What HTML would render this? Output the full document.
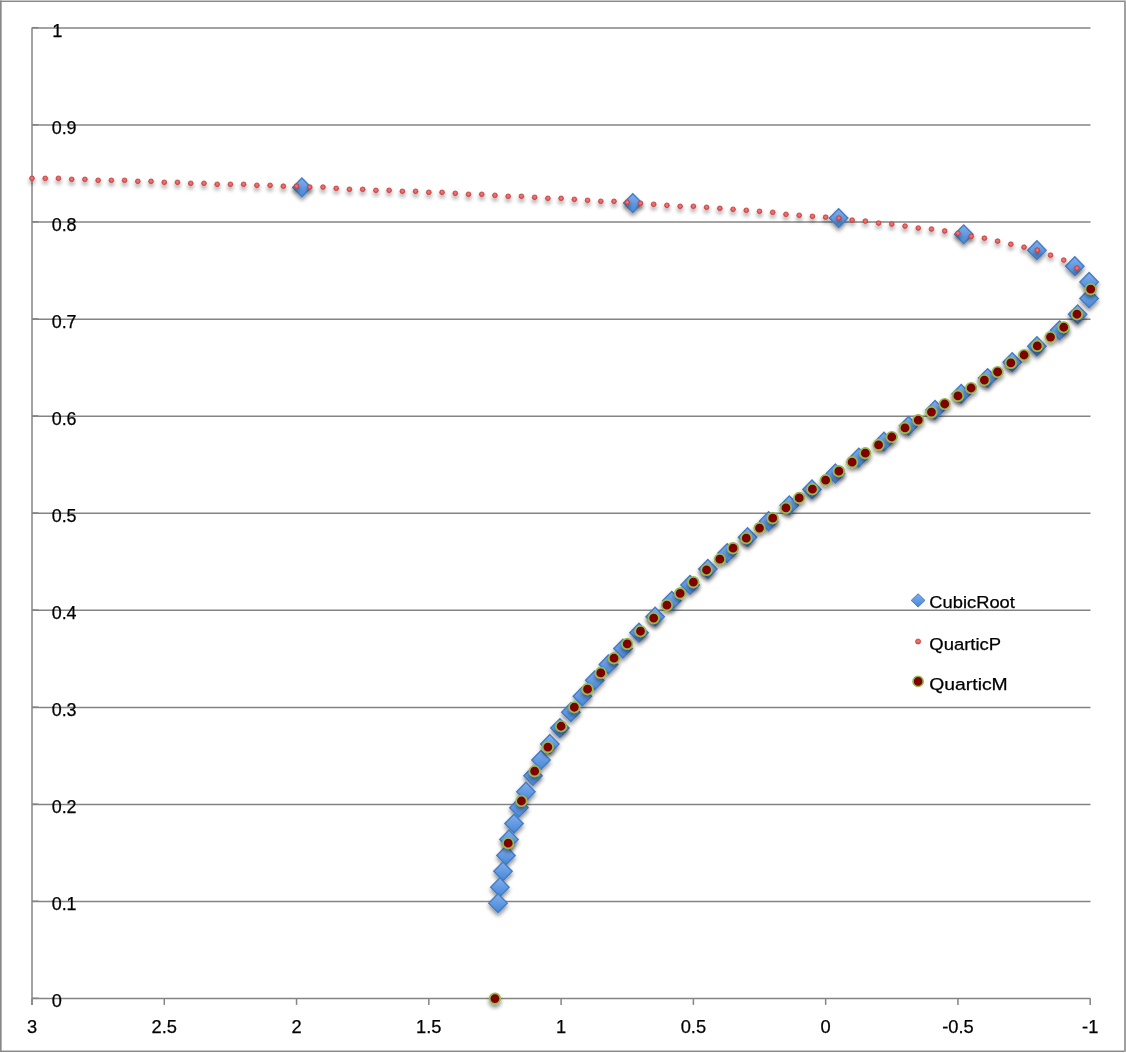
<!DOCTYPE html>
<html lang="en">
<head>
<meta charset="utf-8">
<title>Chart</title>
<style>
html,body{margin:0;padding:0;background:#fff;}
body{width:1126px;height:1053px;overflow:hidden;}
svg{display:block;}
text{font-family:"Liberation Sans",sans-serif;fill:#000;stroke:#000;stroke-width:0.25px;}
</style>
</head>
<body>
<svg width="1126" height="1053" viewBox="0 0 1126 1053">
<defs>
<linearGradient id="gb" x1="0" y1="0" x2="0" y2="1"><stop offset="0" stop-color="#82aeee"/><stop offset="1" stop-color="#4687d6"/></linearGradient>
<radialGradient id="gr" cx="0.5" cy="0.45" r="0.55"><stop offset="0" stop-color="#f67c7c"/><stop offset="0.55" stop-color="#e66262"/><stop offset="1" stop-color="#c43e3e"/></radialGradient>
<filter id="sh" filterUnits="userSpaceOnUse" x="-22" y="-22" width="44" height="50"><feGaussianBlur in="SourceAlpha" stdDeviation="2.1"/><feOffset dx="0" dy="3" result="o"/><feComponentTransfer><feFuncA type="linear" slope="0.45"/></feComponentTransfer><feMerge><feMergeNode/><feMergeNode in="SourceGraphic"/></feMerge></filter>
<path id="d" d="M0 -9.4L9.2 0L0 9.4L-9.2 0Z" fill="url(#gb)" stroke="#457cc2" stroke-width="1.4" stroke-linejoin="miter" filter="url(#sh)"/>
<circle id="p" r="2.4" fill="url(#gr)" stroke="#c23c3c" stroke-width="0.7" filter="url(#sh)"/>
<g id="m" filter="url(#sh)"><circle r="5.25" fill="#800000" stroke="#93bb50" stroke-width="1.7"/></g>
</defs>
<rect x="0" y="0" width="1126" height="1053" fill="#fff"/>
<g fill="#888">
<rect x="0" y="0.55" width="1125" height="1.45"/>
<rect x="0" y="1050.55" width="1125" height="1.45"/>
<rect x="0" y="0.55" width="1.65" height="1051.45"/>
<rect x="1124" y="0.55" width="2" height="1051.3" fill="#a0a0a0"/>
</g>

<g stroke="#848484" stroke-width="1.5" fill="none">
<line x1="32" y1="998.6" x2="1090.5" y2="998.6"/>
<line x1="32" y1="901.54" x2="1090.5" y2="901.54"/>
<line x1="32" y1="804.48" x2="1090.5" y2="804.48"/>
<line x1="32" y1="707.42" x2="1090.5" y2="707.42"/>
<line x1="32" y1="610.36" x2="1090.5" y2="610.36"/>
<line x1="32" y1="513.3" x2="1090.5" y2="513.3"/>
<line x1="32" y1="416.24" x2="1090.5" y2="416.24"/>
<line x1="32" y1="319.18" x2="1090.5" y2="319.18"/>
<line x1="32" y1="222.12" x2="1090.5" y2="222.12"/>
<line x1="32" y1="125.06" x2="1090.5" y2="125.06"/>
<line x1="32" y1="28" x2="1090.5" y2="28"/>
<line x1="32" y1="998.3" x2="38.5" y2="998.3"/>
<line x1="32" y1="901.24" x2="38.5" y2="901.24"/>
<line x1="32" y1="804.18" x2="38.5" y2="804.18"/>
<line x1="32" y1="707.12" x2="38.5" y2="707.12"/>
<line x1="32" y1="610.06" x2="38.5" y2="610.06"/>
<line x1="32" y1="513" x2="38.5" y2="513"/>
<line x1="32" y1="415.94" x2="38.5" y2="415.94"/>
<line x1="32" y1="318.88" x2="38.5" y2="318.88"/>
<line x1="32" y1="221.82" x2="38.5" y2="221.82"/>
<line x1="32" y1="124.76" x2="38.5" y2="124.76"/>
<line x1="32" y1="27.7" x2="38.5" y2="27.7"/>
<line x1="32" y1="27.4" x2="32" y2="1004.9"/>
<line x1="32" y1="998.6" x2="32" y2="1004.9"/>
<line x1="164.28" y1="998.6" x2="164.28" y2="1004.9"/>
<line x1="296.55" y1="998.6" x2="296.55" y2="1004.9"/>
<line x1="428.83" y1="998.6" x2="428.83" y2="1004.9"/>
<line x1="561.1" y1="998.6" x2="561.1" y2="1004.9"/>
<line x1="693.38" y1="998.6" x2="693.38" y2="1004.9"/>
<line x1="825.65" y1="998.6" x2="825.65" y2="1004.9"/>
<line x1="957.93" y1="998.6" x2="957.93" y2="1004.9"/>
<line x1="1090.2" y1="998.6" x2="1090.2" y2="1004.9"/>
</g>
<g font-size="18.3">
<text x="51.7" y="1007.3" textLength="10.1" lengthAdjust="spacingAndGlyphs">0</text>
<text x="51.7" y="910.24" textLength="24.9" lengthAdjust="spacingAndGlyphs">0.1</text>
<text x="51.7" y="813.18" textLength="24.9" lengthAdjust="spacingAndGlyphs">0.2</text>
<text x="51.7" y="716.12" textLength="24.9" lengthAdjust="spacingAndGlyphs">0.3</text>
<text x="51.7" y="619.06" textLength="24.9" lengthAdjust="spacingAndGlyphs">0.4</text>
<text x="51.7" y="522" textLength="24.9" lengthAdjust="spacingAndGlyphs">0.5</text>
<text x="51.7" y="424.94" textLength="24.9" lengthAdjust="spacingAndGlyphs">0.6</text>
<text x="51.7" y="327.88" textLength="24.9" lengthAdjust="spacingAndGlyphs">0.7</text>
<text x="51.7" y="230.82" textLength="24.9" lengthAdjust="spacingAndGlyphs">0.8</text>
<text x="51.7" y="133.76" textLength="24.9" lengthAdjust="spacingAndGlyphs">0.9</text>
<text x="52.3" y="36.7">1</text>
<text x="32" y="1032.6" text-anchor="middle">3</text>
<text x="164.28" y="1032.6" text-anchor="middle">2.5</text>
<text x="296.55" y="1032.6" text-anchor="middle">2</text>
<text x="428.83" y="1032.6" text-anchor="middle">1.5</text>
<text x="561.1" y="1032.6" text-anchor="middle">1</text>
<text x="693.38" y="1032.6" text-anchor="middle">0.5</text>
<text x="825.65" y="1032.6" text-anchor="middle">0</text>
<text x="957.93" y="1032.6" text-anchor="middle">-0.5</text>
<text x="1090.2" y="1032.6" text-anchor="middle">-1</text>
</g>
<g>
<use href="#d" x="301.9" y="187.4"/>
<use href="#d" x="632.8" y="203.1"/>
<use href="#d" x="838.65" y="218.1"/>
<use href="#d" x="963.75" y="234.3"/>
<use href="#d" x="1036.9" y="250.2"/>
<use href="#d" x="1074.8" y="266.2"/>
<use href="#d" x="1089.1" y="282"/>
<use href="#d" x="1089.1" y="298.4"/>
<use href="#d" x="1077.65" y="314.3"/>
<use href="#d" x="1059.59" y="330.32"/>
<use href="#d" x="1036.91" y="346.23"/>
<use href="#d" x="1012.19" y="362.14"/>
<use href="#d" x="987.64" y="378.05"/>
<use href="#d" x="961.23" y="393.96"/>
<use href="#d" x="935.07" y="409.88"/>
<use href="#d" x="908.55" y="425.79"/>
<use href="#d" x="884" y="441.7"/>
<use href="#d" x="858.83" y="457.61"/>
<use href="#d" x="835.44" y="473.52"/>
<use href="#d" x="811.97" y="489.43"/>
<use href="#d" x="789.33" y="505.34"/>
<use href="#d" x="768.59" y="521.26"/>
<use href="#d" x="747.57" y="537.17"/>
<use href="#d" x="727.16" y="553.08"/>
<use href="#d" x="707.82" y="568.99"/>
<use href="#d" x="690.07" y="584.9"/>
<use href="#d" x="671.8" y="600.81"/>
<use href="#d" x="655.13" y="616.72"/>
<use href="#d" x="639" y="632.64"/>
<use href="#d" x="622.97" y="648.55"/>
<use href="#d" x="608.41" y="664.46"/>
<use href="#d" x="594.74" y="680.37"/>
<use href="#d" x="582.35" y="696.28"/>
<use href="#d" x="570.87" y="712.19"/>
<use href="#d" x="559.92" y="728.1"/>
<use href="#d" x="549.88" y="744.02"/>
<use href="#d" x="540.99" y="759.93"/>
<use href="#d" x="532.98" y="775.84"/>
<use href="#d" x="525.91" y="791.75"/>
<use href="#d" x="518.9" y="807.66"/>
<use href="#d" x="514.01" y="823.57"/>
<use href="#d" x="508.98" y="839.49"/>
<use href="#d" x="505.99" y="855.4"/>
<use href="#d" x="502.98" y="871.31"/>
<use href="#d" x="499.91" y="887.22"/>
<use href="#d" x="498" y="903.13"/>
</g><g>
<use href="#p" x="32" y="178.35"/>
<use href="#p" x="45.23" y="178.35"/>
<use href="#p" x="58.46" y="178.35"/>
<use href="#p" x="71.68" y="179.35"/>
<use href="#p" x="84.91" y="179.35"/>
<use href="#p" x="98.14" y="180.3"/>
<use href="#p" x="111.36" y="180.3"/>
<use href="#p" x="124.59" y="180.3"/>
<use href="#p" x="137.82" y="181.3"/>
<use href="#p" x="151.05" y="181.3"/>
<use href="#p" x="164.28" y="182.3"/>
<use href="#p" x="177.5" y="182.3"/>
<use href="#p" x="190.73" y="183.3"/>
<use href="#p" x="203.96" y="183.3"/>
<use href="#p" x="217.19" y="184.3"/>
<use href="#p" x="230.41" y="184.3"/>
<use href="#p" x="243.64" y="184.3"/>
<use href="#p" x="256.87" y="185.3"/>
<use href="#p" x="270.1" y="185.3"/>
<use href="#p" x="283.32" y="186.2"/>
<use href="#p" x="296.55" y="186.2"/>
<use href="#p" x="309.78" y="187.1"/>
<use href="#p" x="323.01" y="187.1"/>
<use href="#p" x="336.23" y="188.35"/>
<use href="#p" x="349.46" y="189.35"/>
<use href="#p" x="362.69" y="189.35"/>
<use href="#p" x="375.92" y="190.3"/>
<use href="#p" x="389.14" y="190.3"/>
<use href="#p" x="402.37" y="191.3"/>
<use href="#p" x="415.6" y="191.3"/>
<use href="#p" x="428.83" y="192.3"/>
<use href="#p" x="442.05" y="192.3"/>
<use href="#p" x="455.28" y="193.3"/>
<use href="#p" x="468.51" y="194.3"/>
<use href="#p" x="481.74" y="194.3"/>
<use href="#p" x="494.96" y="195.3"/>
<use href="#p" x="508.19" y="196.3"/>
<use href="#p" x="521.42" y="196.3"/>
<use href="#p" x="534.64" y="197.3"/>
<use href="#p" x="547.87" y="198.3"/>
<use href="#p" x="561.1" y="198.35"/>
<use href="#p" x="574.33" y="199.35"/>
<use href="#p" x="587.56" y="200.3"/>
<use href="#p" x="600.78" y="201.3"/>
<use href="#p" x="614.01" y="201.3"/>
<use href="#p" x="627.24" y="202.3"/>
<use href="#p" x="640.47" y="203.3"/>
<use href="#p" x="653.69" y="204.3"/>
<use href="#p" x="666.92" y="205.3"/>
<use href="#p" x="680.15" y="206.3"/>
<use href="#p" x="693.38" y="206.3"/>
<use href="#p" x="706.6" y="207.3"/>
<use href="#p" x="719.83" y="208.3"/>
<use href="#p" x="733.06" y="209.3"/>
<use href="#p" x="746.29" y="210.3"/>
<use href="#p" x="759.51" y="211.3"/>
<use href="#p" x="772.74" y="212.3"/>
<use href="#p" x="785.97" y="214.3"/>
<use href="#p" x="799.2" y="215.3"/>
<use href="#p" x="812.42" y="216.3"/>
<use href="#p" x="825.65" y="217.2"/>
<use href="#p" x="838.88" y="218.1"/>
<use href="#p" x="852.11" y="220.1"/>
<use href="#p" x="865.33" y="221.1"/>
<use href="#p" x="878.56" y="223.1"/>
<use href="#p" x="891.79" y="224.1"/>
<use href="#p" x="905.02" y="226.1"/>
<use href="#p" x="918.24" y="228.05"/>
<use href="#p" x="931.47" y="229.05"/>
<use href="#p" x="944.7" y="231"/>
<use href="#p" x="957.93" y="233.3"/>
<use href="#p" x="971.15" y="236.3"/>
<use href="#p" x="984.38" y="238.2"/>
<use href="#p" x="997.61" y="241.2"/>
<use href="#p" x="1010.84" y="244.2"/>
<use href="#p" x="1024.06" y="247.2"/>
<use href="#p" x="1037.29" y="250.2"/>
<use href="#p" x="1050.52" y="255.2"/>
<use href="#p" x="1063.75" y="260.1"/>
<use href="#p" x="1076.97" y="268.1"/>
<use href="#p" x="1090.2" y="289.19"/>
</g><g>
<use href="#m" x="494.96" y="998.6"/>
<use href="#m" x="508.19" y="843.21"/>
<use href="#m" x="521.42" y="800.99"/>
<use href="#m" x="534.64" y="771.19"/>
<use href="#m" x="547.87" y="747.12"/>
<use href="#m" x="561.1" y="726.25"/>
<use href="#m" x="574.33" y="707.23"/>
<use href="#m" x="587.56" y="689.17"/>
<use href="#m" x="600.78" y="672.96"/>
<use href="#m" x="614.01" y="658.21"/>
<use href="#m" x="627.24" y="643.94"/>
<use href="#m" x="640.47" y="631.23"/>
<use href="#m" x="653.69" y="618.12"/>
<use href="#m" x="666.92" y="605.22"/>
<use href="#m" x="680.15" y="593.28"/>
<use href="#m" x="693.38" y="582.12"/>
<use href="#m" x="706.6" y="569.98"/>
<use href="#m" x="719.83" y="559.21"/>
<use href="#m" x="733.06" y="548.14"/>
<use href="#m" x="746.29" y="538.15"/>
<use href="#m" x="759.51" y="528.05"/>
<use href="#m" x="772.74" y="518.15"/>
<use href="#m" x="785.97" y="507.86"/>
<use href="#m" x="799.2" y="497.96"/>
<use href="#m" x="812.42" y="489.13"/>
<use href="#m" x="825.65" y="480.2"/>
<use href="#m" x="838.88" y="471.18"/>
<use href="#m" x="852.11" y="462.15"/>
<use href="#m" x="865.33" y="453.22"/>
<use href="#m" x="878.56" y="444.97"/>
<use href="#m" x="891.79" y="437.01"/>
<use href="#m" x="905.01" y="427.89"/>
<use href="#m" x="918.24" y="420.03"/>
<use href="#m" x="931.47" y="412.07"/>
<use href="#m" x="944.7" y="404.01"/>
<use href="#m" x="957.93" y="395.95"/>
<use href="#m" x="971.15" y="388"/>
<use href="#m" x="984.38" y="380.04"/>
<use href="#m" x="997.61" y="371.98"/>
<use href="#m" x="1010.84" y="362.95"/>
<use href="#m" x="1024.06" y="355"/>
<use href="#m" x="1037.29" y="345.97"/>
<use href="#m" x="1050.52" y="337.04"/>
<use href="#m" x="1063.75" y="327.24"/>
<use href="#m" x="1076.97" y="314.23"/>
<use href="#m" x="1090.7" y="289.19"/>
</g>
<path d="M0 -6.6L6.9 0L0 6.6L-6.9 0Z" transform="translate(918.1 600.4)" fill="url(#gb)" stroke="#457cc2" stroke-width="1"/>
<circle cx="918.1" cy="641.5" r="2.6" fill="url(#gr)" stroke="#c54a4a" stroke-width="0.7"/>
<circle cx="918.1" cy="681.4" r="5.1" fill="#800000" stroke="#93bb50" stroke-width="1.6"/>
<g font-size="17.1">
<text x="929.3" y="608.4" textLength="85.6" lengthAdjust="spacingAndGlyphs">CubicRoot</text>
<text x="929.3" y="649.8" textLength="71.8" lengthAdjust="spacingAndGlyphs">QuarticP</text>
<text x="929.3" y="690.0" textLength="78.4" lengthAdjust="spacingAndGlyphs">QuarticM</text>
</g>
</svg>
</body>
</html>
